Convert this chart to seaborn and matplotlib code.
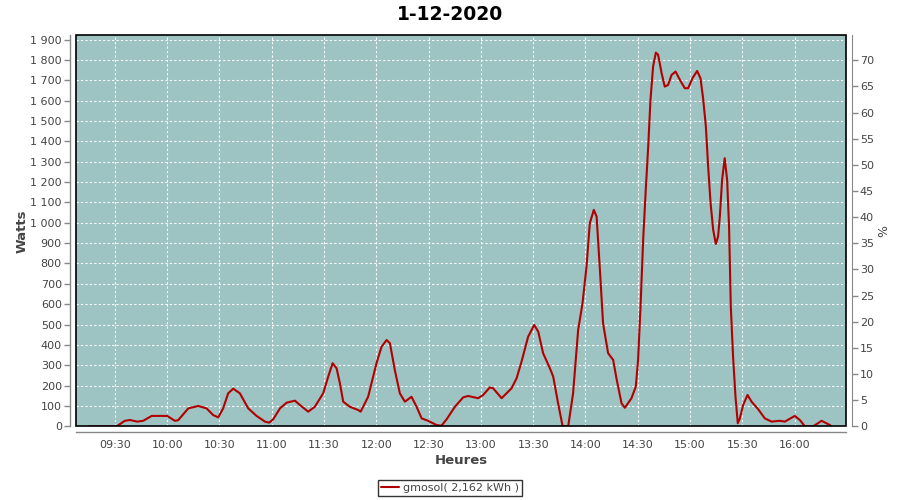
import matplotlib
matplotlib.use("Agg")
import matplotlib.pyplot as plt
from matplotlib.patches import Rectangle
from matplotlib.ticker import FuncFormatter, MultipleLocator
import seaborn as sns
import pandas as pd

title = "1-12-2020"
series_name = "gmosol( 2,162 kWh )"

times = [
    "09:15:06", "09:31:00", "09:35:42", "09:38:36", "09:42:48", "09:46:12", "09:51:06", "10:00:00",
    "10:04:24", "10:06:18", "10:12:06", "10:17:48", "10:22:36", "10:26:24", "10:29:18", "10:32:06",
    "10:35:00", "10:37:54", "10:41:42", "10:46:30", "10:51:18", "10:56:06", "10:58:30", "11:00:48",
    "11:04:42", "11:08:30", "11:13:18", "11:16:06", "11:20:54", "11:24:42", "11:29:30", "11:32:24",
    "11:34:54", "11:37:12", "11:39:06", "11:41:00", "11:44:48", "11:49:36", "11:51:00", "11:55:18",
    "12:00:06", "12:03:00", "12:05:54", "12:07:48", "12:10:36", "12:13:30", "12:16:24", "12:20:12",
    "12:23:06", "12:26:00", "12:29:42", "12:34:36", "12:37:24", "12:40:18", "12:45:06", "12:49:48",
    "12:52:42", "12:58:24", "13:01:18", "13:05:06", "13:07:00", "13:11:54", "13:17:36", "13:20:30",
    "13:23:18", "13:27:06", "13:30:36", "13:32:54", "13:35:42", "13:39:36", "13:41:30", "13:44:18",
    "13:46:54", "13:50:06", "13:52:54", "13:55:48", "13:58:18", "14:00:36", "14:02:30", "14:04:48",
    "14:06:24", "14:08:18", "14:10:06", "14:13:00", "14:15:54", "14:17:48", "14:20:42", "14:22:36",
    "14:26:24", "14:28:54", "14:30:12", "14:31:36", "14:33:06", "14:34:36", "14:36:00", "14:37:18",
    "14:38:48", "14:40:24", "14:41:42", "14:43:42", "14:45:30", "14:47:24", "14:49:24", "14:51:42",
    "14:54:12", "14:57:00", "14:58:54", "15:01:24", "15:04:06", "15:06:00", "15:07:30", "15:09:06",
    "15:10:24", "15:11:48", "15:13:18", "15:14:48", "15:16:06", "15:17:06", "15:18:24", "15:19:54",
    "15:21:18", "15:22:24", "15:23:24", "15:24:42", "15:26:06", "15:27:24", "15:28:36", "15:30:30",
    "15:33:00", "15:35:18", "15:39:06", "15:42:54", "15:46:48", "15:51:30", "15:54:24", "16:00:06",
    "16:03:00", "16:05:54", "16:10:42", "16:15:30", "16:20:18", "16:21:00",
]
watts = [
    0, 0, 27, 31, 23, 27, 51, 51,
    27, 30, 88, 100, 88, 55, 44, 88,
    162, 185, 162, 88, 51, 23, 18, 34,
    88, 116, 126, 105, 72, 96, 162, 244,
    310, 285, 211, 121, 96, 80, 72, 145,
    310, 391, 424, 408, 277, 162, 121, 145,
    96, 39, 27, 6, 3, 34, 96, 142,
    149, 138, 154, 191, 187, 138, 187, 236,
    317, 440, 498, 465, 359, 285, 244, 113,
    0, 0, 162, 473, 604, 784, 998, 1063,
    1030, 768, 506, 359, 326, 235, 113, 91,
    138, 195, 326, 588, 915, 1161, 1374, 1603,
    1767, 1836, 1825, 1735, 1669, 1677, 1726, 1743,
    1702, 1661, 1661, 1710, 1746, 1710, 1612, 1472,
    1276, 1096, 965, 896, 932, 1030, 1210, 1317,
    1210, 981, 588, 342, 145, 15, 39, 105,
    154, 121, 84, 39, 23, 27, 23, 51,
    31, 0, 0, 27, 6, 0,
]

x_ticks = ["09:30", "10:00", "10:30", "11:00", "11:30", "12:00", "12:30",
           "13:00", "13:30", "14:00", "14:30", "15:00", "15:30", "16:00"]

def to_min(s):
    td = pd.to_timedelta(s if s.count(":") == 2 else s + ":00")
    return td.total_seconds() / 60.0

df = pd.DataFrame({"t": [to_min(s) for s in times], "Watts": watts})

sns.set_style("white")
plt.rcParams["font.family"] = ["DejaVu Sans"]

W, H = 900, 500
fig = plt.figure(figsize=(9, 5), dpi=100)
L, R, T, B = 75.7, 846.0, 35.3, 426.3
ax = fig.add_axes([L / W, 1 - B / H, (R - L) / W, (B - T) / H])
ax.set_facecolor("#9DC3C2")

red = "#B20000"
sns.lineplot(data=df, x="t", y="Watts", ax=ax, color=red, lw=1.5, sort=False,
             estimator=None, label=series_name, legend=False, clip_on=True)

ymax = 1921
ax.set_ylim(0, ymax)
ax.set_xlim(547.5, 989.5)
ax.yaxis.set_major_locator(MultipleLocator(100))
ax.yaxis.set_major_formatter(FuncFormatter(lambda v, p: f"{v:,.0f}".replace(",", " ")))
ax.set_xticks([to_min(s) for s in x_ticks])
ax.set_xticklabels(x_ticks)

grid_kw = dict(color="white", linestyle=(0, (2, 2)), linewidth=0.8)
ax.grid(True, axis="both", **grid_kw)

gray = "#888888"
txt = "#444444"
for s in ["left", "bottom"]:
    ax.spines[s].set_position(("outward", 4))
    ax.spines[s].set_color(gray)
    ax.spines[s].set_linewidth(1)
for s in ["top", "right"]:
    ax.spines[s].set_visible(False)
ax.tick_params(axis="both", direction="out", length=4, width=1, color=gray,
               labelsize=8, labelcolor=txt, pad=2)

ax.add_patch(Rectangle((0, 0), 1, 1, transform=ax.transAxes, fill=False,
                       edgecolor="black", lw=1.2, zorder=5, clip_on=False))

ax2 = ax.twinx()
ax2.set_ylim(0, 74.78)
ax2.yaxis.set_major_locator(MultipleLocator(5))
for s in ["left", "bottom", "top"]:
    ax2.spines[s].set_visible(False)
ax2.spines["right"].set_position(("outward", 4))
ax2.spines["right"].set_color(gray)
ax2.tick_params(axis="y", direction="out", length=4, width=1, color=gray,
                labelsize=8, labelcolor=txt, pad=2)
ax2.set_ylabel("%", fontsize=9, color=txt, labelpad=2)

ax.set_xlabel("Heures", fontsize=9.5, color=txt, fontweight="bold", labelpad=3)
ax.set_ylabel("Watts", fontsize=9.5, color=txt, fontweight="bold", labelpad=1)

fig.text(0.5, 1 - 14 / H, title, ha="center", va="center", fontsize=13.5,
         fontweight="bold", color="black")

handles, labels = ax.get_legend_handles_labels()
leg = fig.legend(handles, labels, loc="center", bbox_to_anchor=(0.5, 1 - 488 / H),
                 fontsize=8, frameon=True, fancybox=False, handlelength=1.6,
                 handletextpad=0.4, borderpad=0.3, borderaxespad=0)
leg.get_frame().set_edgecolor("black")
leg.get_frame().set_linewidth(1)
for t in leg.get_texts():
    t.set_color(txt)

fig.savefig("out.png", dpi=100, facecolor="white")
